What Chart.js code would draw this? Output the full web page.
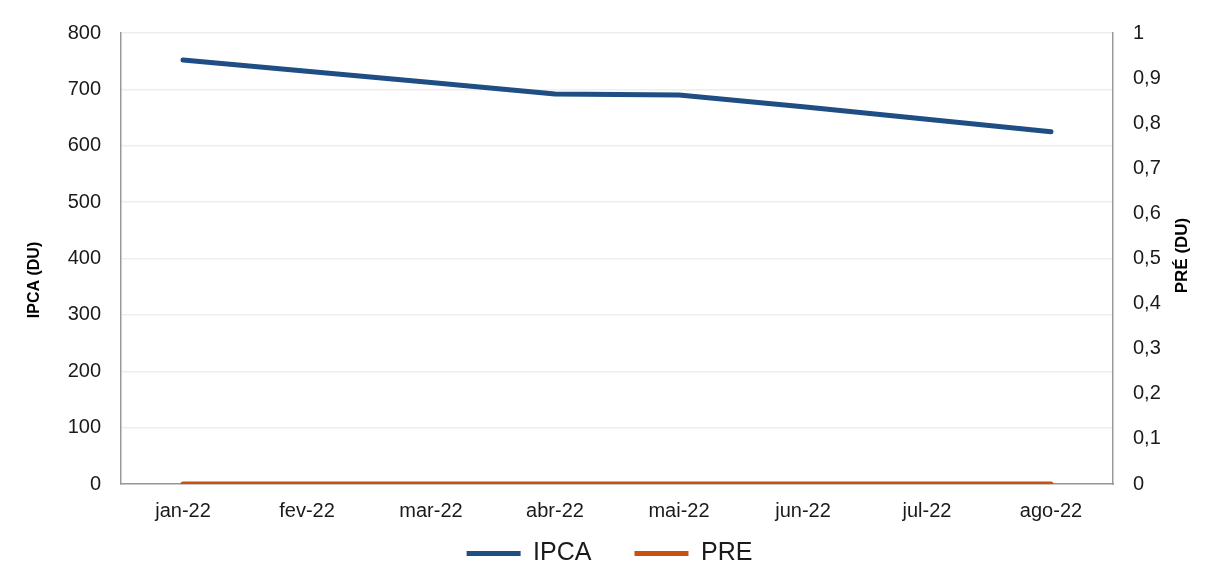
<!DOCTYPE html>
<html>
<head>
<meta charset="utf-8">
<script src="https://cdn.jsdelivr.net/npm/chart.js@4"></script>
<style>
html,body{margin:0;padding:0;background:#fff;}
#wrap{width:1219px;height:567px;}
</style>
</head>
<body>
<div id="wrap"><canvas id="c" width="1219" height="567"></canvas></div>
<script>
const categories = ["jan-22","fev-22","mar-22","abr-22","mai-22","jun-22","jul-22","ago-22"];
const ipcaValues = [752, 732, 712, 692, 690, 669, 647, 625];
const preValues = [0, 0, 0, 0, 0, 0, 0, 0];
const leftTicks = [0,100,200,300,400,500,600,700,800];
const rightTicks = [0,0.1,0.2,0.3,0.4,0.5,0.6,0.7,0.8,0.9,1];
const leftTitle = 'IPCA (DU)';
const rightTitle = 'PRÉ (DU)';

const FONT = "'Liberation Sans', Arial, sans-serif";
Chart.defaults.font.family = FONT;
Chart.defaults.color = '#1a1a1a';

const axisTitles = {
  id: 'axisTitles',
  beforeDraw(chart) {
    // let x tick labels draw below the (shortened) x-axis box
    if (chart.scales.x) chart.scales.x._computeLabelArea = function () { return undefined; };
  },
  afterDraw(chart) {
    const ctx = chart.ctx;
    const area = chart.chartArea;
    ctx.save();
    ctx.font = "bold 16px " + FONT;
    ctx.fillStyle = '#000';
    ctx.textAlign = 'center';
    ctx.textBaseline = 'middle';
    ctx.translate(35, 280);
    ctx.rotate(-Math.PI / 2);
    ctx.fillText(leftTitle, 0, 0);
    ctx.restore();
    ctx.save();
    ctx.font = "bold 17px " + FONT;
    ctx.fillStyle = '#000';
    ctx.textAlign = 'center';
    ctx.textBaseline = 'middle';
    ctx.translate(1182, (area.top + area.bottom) / 2 - 3);
    ctx.rotate(-Math.PI / 2);
    ctx.fillText(rightTitle, 0, 0);
    ctx.restore();
  }
};

new Chart(document.getElementById('c'), {
  type: 'line',
  data: {
    labels: categories,
    datasets: [
      {label: 'IPCA', data: ipcaValues, yAxisID: 'y', borderColor: '#1f4e84', backgroundColor: '#1f4e84', borderWidth: 5, pointRadius: 0, tension: 0, borderCapStyle: 'round', pointStyle: 'line'},
      {label: 'PRE', data: preValues, yAxisID: 'y1', borderColor: '#c9500f', backgroundColor: '#c9500f', borderWidth: 5, pointRadius: 0, tension: 0, borderCapStyle: 'round', pointStyle: 'line'}
    ]
  },
  plugins: [axisTitles],
  options: {
    responsive: false,
    animation: false,
    layout: {padding: {left: 0, right: 0, top: 33, bottom: -9}},
    plugins: {
      legend: {
        position: 'bottom',
        labels: {usePointStyle: true, pointStyle: 'line', pointStyleWidth: 54, boxHeight: 5, padding: 43, font: {size: 25, family: FONT}, color: '#1a1a1a'}
      },
      tooltip: {enabled: false}
    },
    scales: {
      x: {
        offset: true,
        grid: {display: false, drawTicks: false},
        border: {display: true, color: '#999999', width: 1.5},
        ticks: {font: {size: 20}, padding: 15, color: '#1a1a1a', maxRotation: 0, autoSkip: false},
        afterFit: (s) => { s.height = 14; }
      },
      y: {
        position: 'left',
        min: 0, max: 800,
        afterBuildTicks: (s) => { s.ticks = leftTicks.map(v => ({value: v})); },
        grid: {color: '#eeeeee', lineWidth: 1.5, drawTicks: false},
        border: {display: true, color: '#999999', width: 1.5},
        ticks: {font: {size: 20}, padding: 20, color: '#1a1a1a'},
        afterFit: (s) => { s.width = 121; }
      },
      y1: {
        position: 'right',
        min: 0, max: 1,
        afterBuildTicks: (s) => { s.ticks = rightTicks.map(v => ({value: v})); },
        grid: {display: false, drawTicks: false},
        border: {display: true, color: '#999999', width: 1.5},
        ticks: {font: {size: 20}, padding: 20, color: '#1a1a1a', callback: (v) => String(Math.round(v*10)/10).replace('.', ',')},
        afterFit: (s) => { s.width = 106; }
      }
    }
  }
});
</script>
</body>
</html>
